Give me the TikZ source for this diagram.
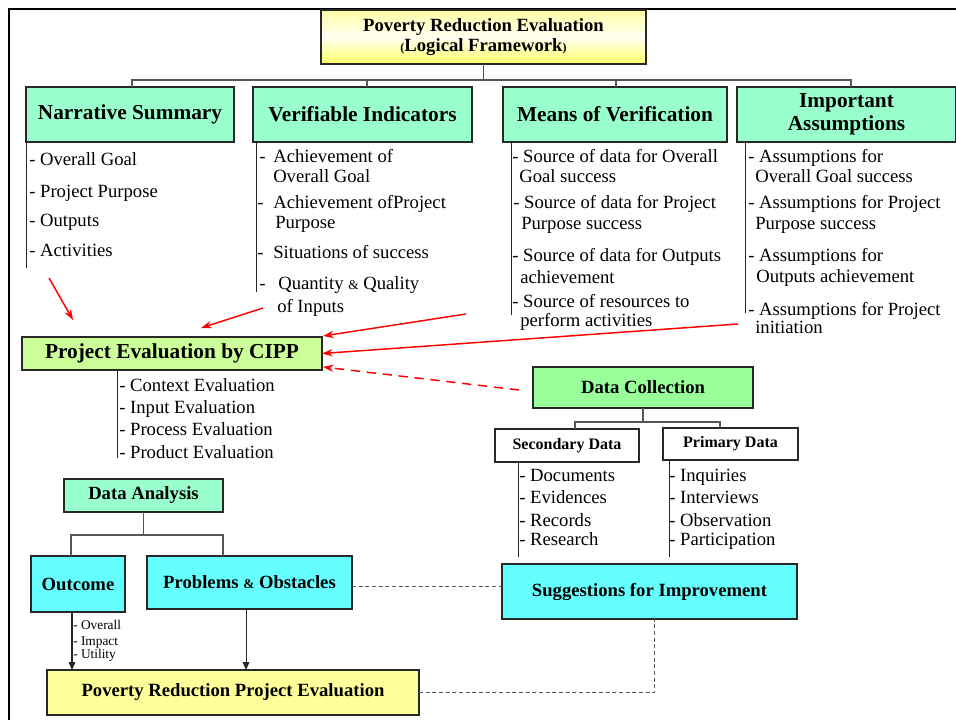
\documentclass[tikz,border=0pt]{standalone}
\usepackage{fontspec}
\setmainfont{Liberation Serif}
\usetikzlibrary{arrows.meta}
\definecolor{mint}{HTML}{99FFCC}
\definecolor{lime}{HTML}{CCFF99}
\definecolor{dcgreen}{HTML}{99FF99}
\definecolor{cyanbox}{HTML}{66FFFF}
\definecolor{paleyel}{HTML}{FFFF99}
\definecolor{edge}{HTML}{282828}
\definecolor{treecol}{HTML}{555555}
\begin{document}
\begin{tikzpicture}[x=0.75pt,y=-0.75pt,
  box/.style={draw=edge, line width=0.9pt, inner sep=0pt, outer sep=0pt, align=center},
  sz/.style 2 args={minimum width=0.75pt*#1, minimum height=0.75pt*#2},
  hdr/.style={font=\fontsize{16}{17.5}\selectfont\bfseries},
  mid/.style={font=\fontsize{14}{14.25}\selectfont\bfseries},
  sml/.style={font=\fontsize{12}{13}\selectfont\bfseries},
  lst/.style={anchor=base west, inner sep=0pt, font=\fontsize{14}{16}\selectfont},
  tiny/.style={anchor=base west, inner sep=0pt, font=\fontsize{10}{11}\selectfont},
  tree/.style={draw=treecol, line width=0.9pt},
  vbar/.style={draw=black!85, line width=0.75pt},
  redarr/.style={draw=red, line width=1.1pt, -{Stealth[length=8pt,width=5.5pt]}},
  blkarr/.style={draw=black!85, line width=0.8pt, -{Triangle[length=6pt,width=5pt]}},
  gdash/.style={draw=black!65, line width=0.7pt, dash pattern=on 3pt off 2pt}
]
\useasboundingbox (0,0) rectangle (956,720);
\fill[white] (0,0) rectangle (956,720);
% frame
\draw[line width=2.2pt] (956,9) -- (9,9) -- (9,720);

% title
\node[box, sz={325}{54}, top color=yellow!35, bottom color=yellow!60, middle color=yellow!5,
  font=\fontsize{14}{14.5}\selectfont\bfseries] (title) at (483.5,37)
  {Poverty Reduction Evaluation\\[1pt]{\fontsize{9}{10}\selectfont(}Logical Framework{\fontsize{9}{10}\selectfont)}};

% headers
\node[box, sz={208}{55}, fill=mint, hdr] (narr) at (130,114.5) {Narrative Summary};
\node[box, sz={219}{55}, fill=mint, hdr] (verif) at (362.5,114.5) {Verifiable Indicators};
\node[box, sz={224}{55}, fill=mint, hdr] (means) at (615,114.5) {Means of Verification};
\node[box, sz={219}{55}, fill=mint, hdr] (imp) at (846.5,114.5) {Important\\Assumptions};

\coordinate (bus1) at (483.5,80);
\draw[tree] (title.south) -- (bus1);
\draw[tree] ([xshift=1.5pt]narr.north) |- (bus1);
\draw[tree] ([xshift=3.4pt]verif.north) |- (bus1);
\draw[tree] ([xshift=0.75pt]means.north) |- (bus1);
\draw[tree] ([xshift=3.4pt]imp.north) |- (bus1);

% list bars
\draw[vbar] (narr.south west) -- ++(0,126);
\draw[vbar] ([xshift=2.25pt]verif.south west) -- ++(0,150);
\draw[vbar] ([xshift=6pt]means.south west) -- ++(0,173);
\draw[vbar] ([xshift=6pt]imp.south west) -- ++(0,171);

% narrative list
\node[lst] (n1) at (29,166) {- Overall Goal};
\node[lst] (n2) at (29,198) {- Project Purpose};
\node[lst] (n3) at (29,227) {- Outputs};
\node[lst] (n4) at (29,257) {- Activities};

% verifiable list
\node[lst] (v1) at (259,163) {-\hspace{5.9pt}Achievement of};
\node[lst] (v2) at (273,183) {Overall Goal};
\node[lst] (v3) at (257,209) {-\hspace{7.4pt}Achievement ofProject};
\node[lst] (v4) at (275,229) {Purpose};
\node[lst] (v5) at (257,258) {-\hspace{7.4pt}Situations of success};
\node[lst] (v6) at (259,290) {-\hspace{9.6pt}Quantity {\fontsize{10}{11}\selectfont\&} Quality};
\node[lst] (v7) at (277,312) {of Inputs};

% means list
\node[lst] (m1) at (512,163) {- Source of data for Overall};
\node[lst] (m2) at (519,183) {Goal success};
\node[lst] (m3) at (513,209) {- Source of data for Project};
\node[lst] (m4) at (521,230) {Purpose success};
\node[lst] (m5) at (512,262) {- Source of data for Outputs};
\node[lst] (m6) at (520,283) {achievement};
\node[lst] (m7) at (512,307) {- Source of resources to};
\node[lst] (m8) at (520,326) {perform activities};

% assumptions list
\node[lst] (i1) at (748,163) {- Assumptions for};
\node[lst] (i2) at (755,183) {Overall Goal success};
\node[lst] (i3) at (748,209) {- Assumptions for Project};
\node[lst] (i4) at (755,230) {Purpose success};
\node[lst] (i5) at (748,262) {- Assumptions for};
\node[lst] (i6) at (756,282) {Outputs achievement};
\node[lst] (i7) at (748,315) {- Assumptions for Project};
\node[lst] (i8) at (755,333) {initiation};

% CIPP
\node[box, sz={300}{33}, fill=lime, font=\fontsize{16}{17}\selectfont\bfseries] (cipp) at (172,353.5) {Project Evaluation by CIPP};
\draw[vbar] ([xshift=71.25pt]cipp.south west) -- ++(0,88);
\node[lst] (c1) at (119,391) {- Context Evaluation};
\node[lst] (c2) at (119,413) {- Input Evaluation};
\node[lst] (c3) at (119,435) {- Process Evaluation};
\node[lst] (c4) at (119,458) {- Product Evaluation};

% red arrows
\coordinate (r1s) at (49,278);  \coordinate (r1e) at (73,320);
\coordinate (r2s) at (263,308); \coordinate (r2e) at (201,328);
\coordinate (r3s) at (466,314); \coordinate (r3e) at (323,336);
\coordinate (r4s) at (738,324);
\coordinate (r5s) at (519,390); \coordinate (r5e) at (323,367);
\draw[redarr] (r1s) -- (r1e);
\draw[redarr] (r2s) -- (r2e);
\draw[redarr] (r3s) -- (r3e);
\draw[redarr] (r4s) -- (cipp.east);
\draw[redarr, dash pattern=on 7pt off 5pt] (r5s) -- (r5e);

% data collection
\node[box, sz={220}{41}, fill=dcgreen, mid] (dc) at (643,387.5) {Data Collection};
\node[box, sz={144}{33}, fill=white, sml] (sec) at (567,445.5) {Secondary Data};
\node[box, sz={135}{32}, fill=white, sml] (prim) at (730.5,444) {Primary Data};
\coordinate (bus2) at (643,422);
\draw[tree] (dc.south) -- (bus2);
\draw[tree] ([xshift=6pt]sec.north) |- (bus2);
\draw[tree] ([xshift=-7.9pt]prim.north) |- (bus2);
\draw[vbar] ([xshift=17.25pt]sec.south west) -- ++(0,95);
\draw[vbar] ([xshift=4.5pt]prim.south west) -- ++(0,97);
\node[lst] (s1) at (519,481) {- Documents};
\node[lst] (s2) at (519,503) {- Evidences};
\node[lst] (s3) at (519,526) {- Records};
\node[lst] (s4) at (519,545) {- Research};
\node[lst] (p1) at (669,481) {- Inquiries};
\node[lst] (p2) at (669,503) {- Interviews};
\node[lst] (p3) at (669,526) {- Observation};
\node[lst] (p4) at (669,545) {- Participation};

% data analysis
\node[box, sz={159}{33}, fill=mint, mid] (da) at (143.5,495.5) {Data Analysis};
\node[box, sz={94}{56}, fill=cyanbox, mid] (out) at (78,584) {Outcome};
\node[box, sz={205}{53}, fill=cyanbox, mid] (prob) at (249.5,582.5) {Problems {\fontsize{10}{11}\selectfont\&} Obstacles};
\coordinate (bus3) at (143.5,535);
\draw[tree] (da.south) -- (bus3);
\draw[tree] ([xshift=-5.25pt]out.north) |- (bus3);
\draw[tree] ([xshift=-19.9pt]prob.north) |- (bus3);

\node[box, sz={295}{55}, fill=cyanbox, mid] (sugg) at (649.5,591.5) {Suggestions for Improvement};
\node[box, sz={372}{45}, fill=paleyel, mid] (prpe) at (233,692.5) {Poverty Reduction Project Evaluation};

\node[tiny] (o1) at (73,629) {- Overall};
\node[tiny] (o2) at (73,645) {- Impact};
\node[tiny] (o3) at (73,658) {- Utility};

\draw[blkarr] ([xshift=-4.5pt]out.south) -- ([xshift=-4.5pt]out.south |- prpe.north);
\draw[blkarr] ([xshift=-2.6pt]prob.south) -- ([xshift=-2.6pt]prob.south |- prpe.north);

\draw[gdash] ([yshift=-3pt]prob.east) -- ([yshift=-3pt]prob.east -| sugg.west);
\draw[gdash] (prpe.east) -| ([xshift=4pt]sugg.south);
\end{tikzpicture}
\end{document}
